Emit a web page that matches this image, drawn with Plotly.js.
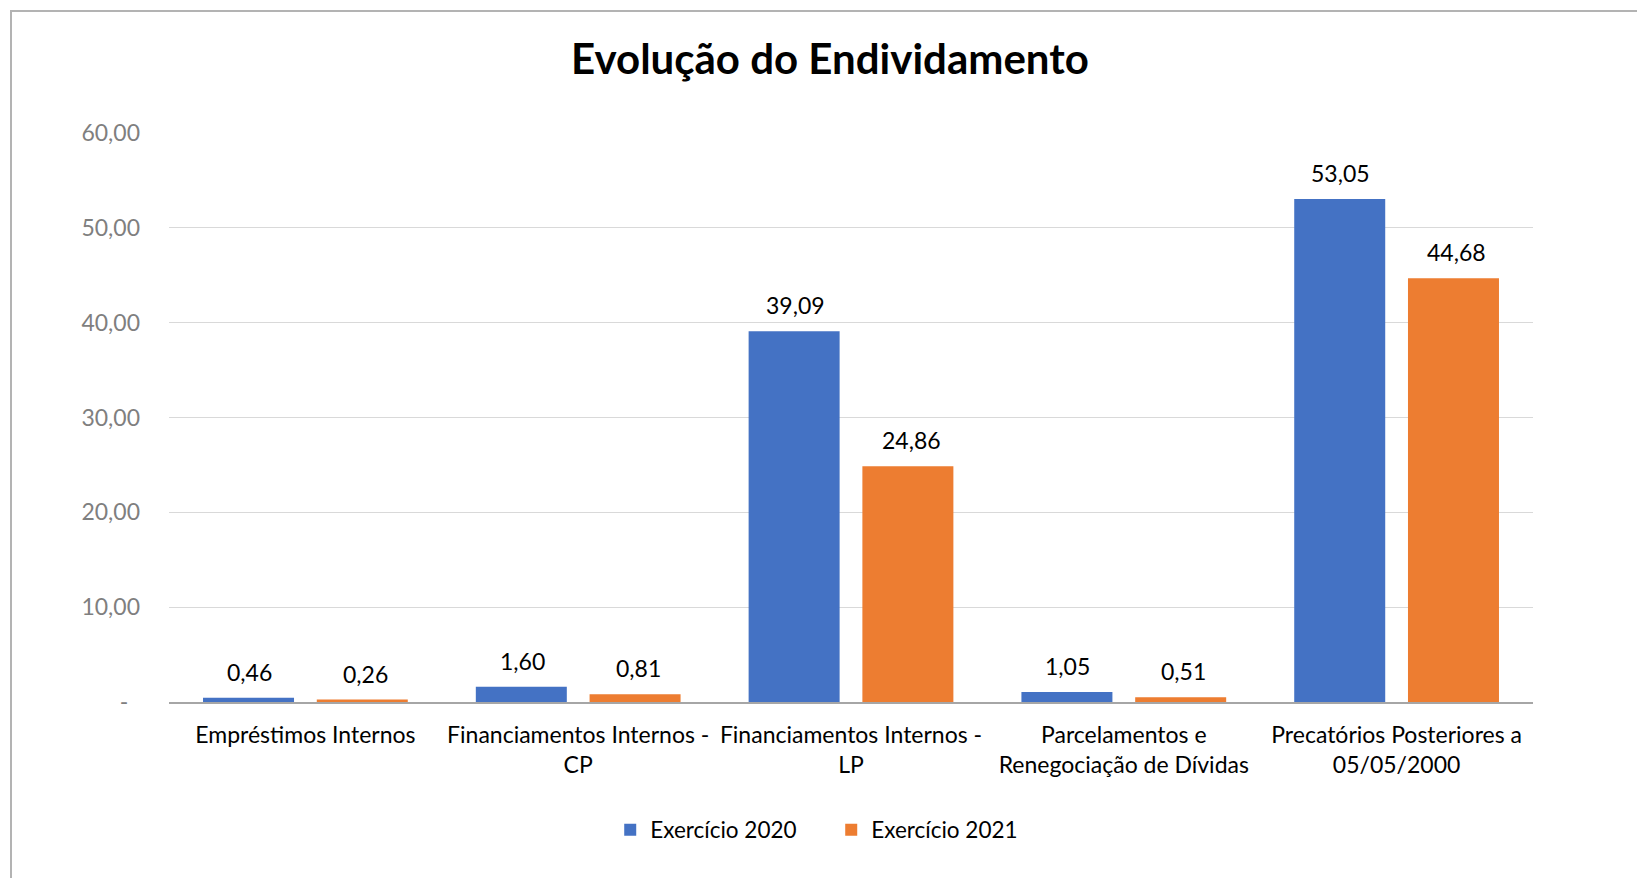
<!DOCTYPE html>
<html>
<head>
<meta charset="utf-8">
<script src="https://cdn.plot.ly/plotly-3.0.1.min.js"></script>
<style>
  html, body { margin: 0; padding: 0; background: #ffffff; }
  #wrap { position: relative; width: 1637px; height: 878px; overflow: hidden; }
  #chart { position: absolute; left: 0; top: 0; width: 1637px; height: 878px; }
  #frame { position: absolute; left: 10px; top: 10px; width: 1700px; height: 900px;
           border-left: 2px solid #b3b3b3; border-top: 2px solid #b3b3b3; pointer-events: none; }
</style>
</head>
<body>
<div id="wrap">
  <div id="chart"></div>
  <div id="frame"></div>
</div>
<script>
const categories = [
  "Empréstimos Internos",
  "Financiamentos Internos -<br>CP",
  "Financiamentos Internos -<br>LP",
  "Parcelamentos e<br>Renegociação de Dívidas",
  "Precatórios Posteriores a<br>05/05/2000"
];
const seriesNames = ["Exercício 2020", "Exercício 2021"];
const values2020 = [0.46, 1.60, 39.09, 1.05, 53.05];
const values2021 = [0.26, 0.81, 24.86, 0.51, 44.68];
const yTickVals = [0, 10, 20, 30, 40, 50, 60];
const yTickText = ["-\u00a0\u00a0", "10,00", "20,00", "30,00", "40,00", "50,00", "60,00"];

const FONT = "Lato, 'Open Sans', sans-serif";
const colors = ["#4472C4", "#ED7D31"];
const seriesValues = [values2020, values2021];

const traces = seriesValues.map((vals, i) => ({
  type: "bar", name: seriesNames[i], x: categories, y: vals,
  marker: { color: colors[i] },
  hoverinfo: "skip"
}));

// data labels: placed at each bar's value through the axes, offset to the bar's slot
const fmt = v => v.toFixed(2).replace(".", ",");
const SLOT_HALF = 58;
const annotations = [];
seriesValues.forEach((vals, i) => {
  vals.forEach((v, j) => {
    annotations.push({
      x: categories[j], y: v, xref: "x", yref: "y",
      text: fmt(v), showarrow: false,
      xanchor: "center", yanchor: "bottom",
      xshift: (i === 0 ? -SLOT_HALF + 2 : SLOT_HALF + 2), yshift: 10,
      font: { family: FONT, size: 23, color: "#000000" }
    });
  });
});

const layout = {
  width: 1637, height: 878,
  separators: ",.",
  paper_bgcolor: "rgba(0,0,0,0)",
  plot_bgcolor: "#ffffff",
  font: { family: FONT, color: "#000000" },
  margin: { l: 169, r: 104, t: 133, b: 176 },
  title: {
    text: "<b>Evolução do Endividamento</b>",
    font: { family: FONT, size: 42, color: "#000000" },
    x: 0.507, xanchor: "center", xref: "container",
    y: 0.932, yanchor: "middle", yref: "container"
  },
  barmode: "group",
  bargap: 0.166,
  bargroupgap: 0.2,
  annotations: annotations,
  xaxis: {
    type: "category",
    showgrid: false,
    showline: true, linecolor: "#a6a6a6", linewidth: 1.5,
    ticks: "",
    tickfont: { family: FONT, size: 23, color: "#000000" },
    ticklabelstandoff: 12,
    fixedrange: true
  },
  yaxis: {
    range: [0, 60],
    tickvals: yTickVals, ticktext: yTickText,
    showgrid: true, gridcolor: "#d9d9d9", gridwidth: 1,
    zeroline: false, showline: false,
    ticks: "",
    tickfont: { family: FONT, size: 23, color: "#7f7f7f" },
    ticklabelstandoff: 28,
    fixedrange: true
  },
  showlegend: true,
  legend: {
    orientation: "h",
    x: 0.4855, xanchor: "center", xref: "paper",
    y: -0.225, yanchor: "middle", yref: "paper",
    font: { family: FONT, size: 22.5, color: "#000000" },
    itemwidth: 30,
    entrywidth: 176,
    traceorder: "normal"
  }
};

Plotly.newPlot("chart", traces, layout, { displayModeBar: false, staticPlot: true });
</script>
</body>
</html>
